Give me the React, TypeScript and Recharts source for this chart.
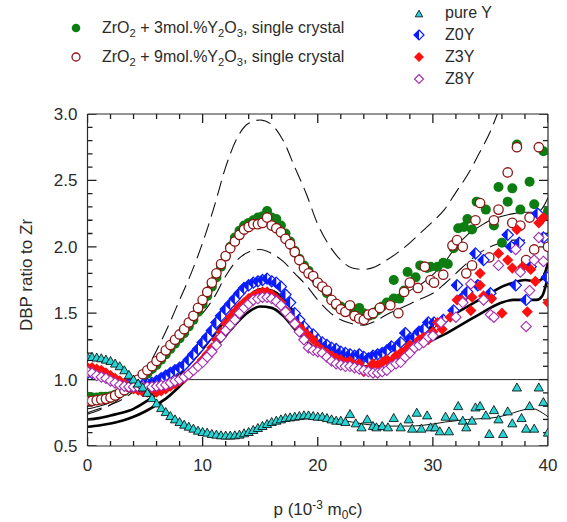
import React from 'react'
import { ComposedChart, Scatter, Line, XAxis, YAxis, ReferenceLine } from 'recharts'

type Pt = [number, number]

const FONT = '"Liberation Sans", Arial, Helvetica, sans-serif'
const INK = '#2b2b2b'
const GREEN = '#0d7d12'
const BROWN = '#8c1414'
const CYAN = '#27d3d3'
const BLUE = '#0a1cff'
const RED = '#ff1010'
const PURPLE = '#a42cb0'

const xTicks = [0, 2, 4, 6, 8, 10, 12, 14, 16, 18, 20, 22, 24, 26, 28, 30, 32, 34, 36, 38, 40]
const xMajor = [0, 10, 20, 30, 40]
const yTicks = [0.5, 0.6, 0.7, 0.8, 0.9, 1.0, 1.1, 1.2, 1.3, 1.4, 1.5, 1.6, 1.7, 1.8, 1.9, 2.0, 2.1, 2.2, 2.3, 2.4, 2.5, 2.6, 2.7, 2.8, 2.9, 3.0]
const yMajor = [0.5, 1.0, 1.5, 2.0, 2.5, 3.0]

// ZrO2 + 3 mol.% Y2O3 single crystal
const zr3: Pt[] = [
  [0, 0.87], [0.4, 0.865], [0.8, 0.865], [1.2, 0.87], [1.6, 0.87], [2.0, 0.875], [2.4, 0.885], [2.8, 0.9], [3.2, 0.915], [3.6, 0.935],
  [4.0, 0.96], [4.4, 0.985], [4.8, 1.01], [5.2, 1.045], [5.6, 1.08], [6.0, 1.11], [6.4, 1.15], [6.8, 1.19], [7.2, 1.23], [7.6, 1.27],
  [8.0, 1.31], [8.4, 1.35], [8.8, 1.4], [9.2, 1.45], [9.6, 1.51], [10.0, 1.57], [10.4, 1.63], [10.8, 1.7], [11.2, 1.77], [11.6, 1.85],
  [12.0, 1.93], [12.4, 2.0], [12.8, 2.07], [13.2, 2.12], [13.6, 2.16], [14.0, 2.18], [14.4, 2.2], [14.8, 2.22], [15.2, 2.23], [15.6, 2.27],
  [16.0, 2.22], [16.4, 2.21], [16.8, 2.16], [17.2, 2.1], [17.6, 2.04], [18.0, 1.97], [18.4, 1.91], [18.8, 1.86], [19.2, 1.82], [19.6, 1.78],
  [20.0, 1.73], [20.4, 1.7], [20.8, 1.65], [21.2, 1.6], [21.6, 1.56], [22.0, 1.55], [22.4, 1.53], [22.8, 1.55], [23.2, 1.52], [23.6, 1.54],
  [24.0, 1.5], [24.4, 1.48], [24.8, 1.49], [25.2, 1.52], [25.6, 1.55], [26.0, 1.58], [26.6, 1.75], [26.6, 1.61], [27.1, 1.61], [27.5, 1.67],
  [27.8, 1.81], [28.5, 1.77], [28.9, 1.86], [29.5, 1.84], [29.8, 1.85], [30.4, 1.85], [30.9, 1.88], [31.3, 1.87], [31.8, 1.99], [32.2, 2.14],
  [32.7, 2.15], [33.0, 2.21], [33.4, 2.13], [33.8, 2.34], [34.6, 2.28], [35.3, 2.16], [35.7, 2.45], [36.0, 2.03], [36.5, 2.34], [36.9, 2.44],
  [37.3, 2.77], [37.6, 2.28], [38.4, 2.49], [38.8, 2.32], [39.6, 2.72], [40.0, 2.27],
]

// ZrO2 + 9 mol.% Y2O3 single crystal
const zr9: Pt[] = [
  [0, 0.84], [0.4, 0.84], [0.8, 0.845], [1.2, 0.85], [1.6, 0.855], [2.0, 0.865], [2.4, 0.88], [2.8, 0.9], [3.2, 0.92], [3.6, 0.945],
  [4.0, 0.97], [4.4, 1.0], [4.8, 1.04], [5.2, 1.07], [5.6, 1.1], [6.0, 1.14], [6.4, 1.17], [6.8, 1.22], [7.2, 1.26], [7.6, 1.3],
  [8.0, 1.34], [8.4, 1.38], [8.8, 1.43], [9.2, 1.48], [9.6, 1.54], [10.0, 1.6], [10.4, 1.66], [10.8, 1.73], [11.2, 1.8], [11.6, 1.87],
  [12.0, 1.93], [12.4, 1.99], [12.8, 2.04], [13.2, 2.09], [13.6, 2.13], [14.0, 2.15], [14.4, 2.17], [14.8, 2.17], [15.2, 2.18], [15.6, 2.22],
  [16.0, 2.16], [16.4, 2.14], [16.8, 2.11], [17.2, 2.06], [17.6, 2.02], [18.0, 1.96], [18.4, 1.9], [18.8, 1.84], [19.2, 1.8], [19.6, 1.78],
  [20.0, 1.73], [20.4, 1.7], [20.8, 1.67], [21.2, 1.6], [21.6, 1.57], [22.0, 1.53], [22.4, 1.51], [22.8, 1.56], [23.2, 1.48], [23.6, 1.46],
  [24.0, 1.45], [24.4, 1.49], [24.8, 1.5], [25.4, 1.54], [26.3, 1.56], [27.0, 1.5], [27.5, 1.66], [28.0, 1.73], [28.7, 1.69], [29.3, 1.85],
  [29.8, 1.75], [30.1, 1.73], [30.9, 1.79], [31.7, 2.01], [32.1, 2.05], [32.6, 2.0], [32.9, 1.8], [33.4, 1.86], [33.7, 2.2], [34.1, 2.33],
  [34.9, 1.92], [35.3, 2.2], [35.7, 2.28], [36.5, 2.56], [36.9, 2.18], [37.3, 2.75], [37.6, 2.16], [38.1, 1.9], [38.4, 2.22], [38.8, 1.98],
  [39.2, 2.75], [40.0, 2.0],
]

const pureY: Pt[] = [
  [0, 1.17], [0.4, 1.17], [0.8, 1.165], [1.2, 1.16], [1.6, 1.15], [2.0, 1.14], [2.4, 1.12], [2.8, 1.1], [3.2, 1.07], [3.6, 1.035],
  [4.0, 1.0], [4.4, 0.97], [4.8, 0.94], [5.2, 0.9], [5.6, 0.86], [6.0, 0.82], [6.4, 0.785], [6.8, 0.755], [7.2, 0.725], [7.6, 0.7],
  [8.0, 0.68], [8.4, 0.66], [8.8, 0.645], [9.2, 0.63], [9.6, 0.615], [10.0, 0.605], [10.4, 0.6], [10.8, 0.59], [11.2, 0.585], [11.6, 0.58],
  [12.0, 0.578], [12.4, 0.578], [12.8, 0.58], [13.2, 0.585], [13.6, 0.595], [14.0, 0.605], [14.4, 0.62], [14.8, 0.635], [15.2, 0.65], [15.6, 0.665],
  [16.0, 0.68], [16.4, 0.69], [16.8, 0.7], [17.2, 0.71], [17.6, 0.715], [18.0, 0.72], [18.4, 0.725], [18.8, 0.73], [19.2, 0.73], [19.6, 0.725],
  [20.0, 0.72], [20.4, 0.72], [20.8, 0.71], [21.2, 0.7], [21.6, 0.69], [22.0, 0.69], [22.4, 0.68], [22.8, 0.74], [23.3, 0.67], [23.8, 0.64],
  [24.3, 0.7], [24.8, 0.65], [25.1, 0.64], [25.6, 0.65], [26.1, 0.64], [26.6, 0.71], [27.2, 0.64], [27.9, 0.7], [28.2, 0.63], [28.6, 0.75],
  [29.0, 0.63], [29.5, 0.73], [29.8, 0.64], [30.2, 0.64], [30.6, 0.61], [31.1, 0.72], [31.4, 0.61], [31.8, 0.72], [32.2, 0.8], [32.6, 0.69],
  [32.9, 0.64], [33.4, 0.69], [33.7, 0.79], [34.1, 0.8], [34.6, 0.73], [34.9, 0.59], [35.3, 0.77], [35.7, 0.7], [36.1, 0.59], [36.5, 0.76],
  [36.9, 0.67], [37.3, 0.94], [37.7, 0.71], [38.1, 0.63], [38.4, 0.8], [38.8, 0.63], [39.2, 0.94], [39.6, 0.83], [40.0, 0.6],
]

const z0y: Pt[] = [
  [0, 1.05], [0.4, 1.05], [0.8, 1.04], [1.2, 1.03], [1.6, 1.02], [2.0, 1.0], [2.4, 0.99], [2.8, 0.975], [3.2, 0.965], [3.6, 0.96],
  [4.0, 0.955], [4.4, 0.955], [4.8, 0.96], [5.2, 0.965], [5.6, 0.975], [6.0, 0.99], [6.4, 1.01], [6.8, 1.03], [7.2, 1.05], [7.6, 1.07],
  [8.0, 1.09], [8.4, 1.11], [8.8, 1.15], [9.2, 1.19], [9.6, 1.23], [10.0, 1.28], [10.4, 1.32], [10.8, 1.37], [11.2, 1.43], [11.6, 1.48],
  [12.0, 1.53], [12.4, 1.57], [12.8, 1.61], [13.2, 1.65], [13.6, 1.69], [14.0, 1.71], [14.4, 1.73], [14.8, 1.74], [15.2, 1.75], [15.6, 1.76],
  [16.0, 1.74], [16.4, 1.73], [16.8, 1.7], [17.2, 1.64], [17.6, 1.58], [18.0, 1.5], [18.4, 1.45], [18.8, 1.4], [19.2, 1.36], [19.6, 1.34],
  [20.0, 1.3], [20.4, 1.28], [20.8, 1.26], [21.2, 1.24], [21.6, 1.23], [22.0, 1.21], [22.4, 1.2], [22.8, 1.19], [23.2, 1.18], [23.6, 1.19],
  [24.0, 1.17], [24.4, 1.16], [24.8, 1.18], [25.2, 1.19], [25.6, 1.2], [26.0, 1.22], [26.4, 1.25], [26.8, 1.24], [27.2, 1.28], [27.6, 1.35],
  [28.0, 1.31], [28.4, 1.32], [28.8, 1.36], [29.2, 1.38], [29.6, 1.43], [30.1, 1.43], [30.9, 1.45], [31.8, 1.52], [32.1, 1.71], [32.6, 1.62],
  [33.0, 1.66], [33.7, 1.95], [33.9, 1.71], [34.4, 1.9], [35.0, 1.65], [36.5, 2.09], [36.8, 2.0], [37.2, 1.71], [37.5, 2.03], [38.1, 1.6],
  [38.5, 1.85], [39.1, 2.25], [39.6, 2.07], [39.9, 1.77],
]

const z3y: Pt[] = [
  [0, 1.09], [0.4, 1.09], [0.8, 1.08], [1.2, 1.07], [1.6, 1.05], [2.0, 1.03], [2.4, 1.01], [2.8, 0.99], [3.2, 0.97], [3.6, 0.95],
  [4.0, 0.93], [4.4, 0.92], [4.8, 0.91], [5.2, 0.905], [5.6, 0.9], [6.0, 0.905], [6.4, 0.915], [6.8, 0.93], [7.2, 0.95], [7.6, 0.97],
  [8.0, 0.99], [8.4, 1.01], [8.8, 1.04], [9.2, 1.07], [9.6, 1.11], [10.0, 1.15], [10.4, 1.19], [10.8, 1.24], [11.2, 1.3], [11.6, 1.36],
  [12.0, 1.42], [12.4, 1.47], [12.8, 1.51], [13.2, 1.55], [13.6, 1.58], [14.0, 1.61], [14.4, 1.63], [14.8, 1.65], [15.2, 1.66], [15.6, 1.66],
  [16.0, 1.64], [16.4, 1.61], [16.8, 1.58], [17.2, 1.52], [17.6, 1.47], [18.0, 1.43], [18.4, 1.4], [18.8, 1.36], [19.2, 1.33], [19.6, 1.3],
  [20.0, 1.25], [20.4, 1.22], [20.8, 1.2], [21.2, 1.18], [21.6, 1.16], [22.0, 1.15], [22.4, 1.13], [22.8, 1.14], [23.2, 1.1], [23.6, 1.12],
  [24.0, 1.06], [24.4, 1.08], [24.8, 1.12], [25.2, 1.11], [25.6, 1.13], [26.0, 1.15], [26.4, 1.14], [26.8, 1.18], [27.2, 1.2], [27.6, 1.22],
  [28.0, 1.26], [28.4, 1.25], [28.8, 1.3], [29.2, 1.32], [29.6, 1.3], [30.0, 1.36], [30.4, 1.43], [30.8, 1.38], [31.5, 1.47], [32.1, 1.6],
  [32.5, 1.6], [33.3, 1.52], [33.4, 1.62], [34.1, 1.8], [34.1, 1.71], [34.4, 1.63], [35.1, 1.61], [35.7, 1.95], [36.0, 1.5], [36.5, 1.9],
  [36.9, 1.84], [37.3, 2.13], [37.8, 1.85], [38.2, 1.51], [38.5, 1.83], [38.9, 1.74], [39.2, 2.18], [39.6, 2.22], [40.0, 1.58],
]

const z8y: Pt[] = [
  [0, 1.06], [0.4, 1.05], [0.8, 1.03], [1.2, 1.02], [1.6, 1.01], [2.0, 0.99], [2.4, 0.975], [2.8, 0.96], [3.2, 0.95], [3.6, 0.945],
  [4.0, 0.945], [4.4, 0.945], [4.8, 0.945], [5.2, 0.945], [5.6, 0.945], [6.0, 0.95], [6.4, 0.955], [6.8, 0.96], [7.2, 0.975], [7.6, 0.99],
  [8.0, 1.0], [8.4, 1.02], [8.8, 1.04], [9.2, 1.07], [9.6, 1.1], [10.0, 1.13], [10.4, 1.17], [10.8, 1.21], [11.2, 1.26], [11.6, 1.32],
  [12.0, 1.37], [12.4, 1.41], [12.8, 1.45], [13.2, 1.5], [13.6, 1.54], [14.0, 1.57], [14.4, 1.6], [14.8, 1.61], [15.2, 1.62], [15.6, 1.62],
  [16.0, 1.61], [16.4, 1.59], [16.8, 1.56], [17.2, 1.51], [17.6, 1.47], [18.0, 1.42], [18.4, 1.36], [18.8, 1.3], [19.2, 1.24], [19.6, 1.22],
  [20.0, 1.21], [20.4, 1.2], [20.8, 1.17], [21.2, 1.14], [21.6, 1.12], [22.0, 1.11], [22.4, 1.1], [22.8, 1.1], [23.2, 1.09], [23.6, 1.08],
  [24.0, 1.07], [24.4, 1.06], [24.8, 1.05], [25.2, 1.05], [25.6, 1.06], [26.0, 1.07], [26.4, 1.1], [26.8, 1.12], [27.2, 1.13], [27.6, 1.17],
  [28.0, 1.2], [28.4, 1.24], [28.8, 1.26], [29.2, 1.28], [29.6, 1.32], [30.0, 1.33], [30.7, 1.43], [32.0, 1.47], [32.6, 1.58], [33.3, 1.72],
  [34.4, 1.6], [35.0, 1.49], [35.3, 1.47], [35.7, 1.86], [37.2, 1.98], [37.6, 1.81], [38.1, 1.4], [38.4, 1.67], [38.8, 1.9], [39.2, 2.07],
  [39.6, 1.89],
]

// model curves
const upperDash: Pt[] = [
  [0, 0.74], [1, 0.77], [2, 0.81], [3, 0.87], [4, 0.95], [5, 1.06], [6, 1.22], [7, 1.4], [8, 1.6], [9, 1.8], [10, 2.03], [11, 2.3],
  [12, 2.6], [13, 2.82], [14, 2.93], [15, 2.955], [16, 2.92], [17, 2.8], [18, 2.6], [19, 2.4], [20, 2.17], [21, 2.01], [22, 1.9],
  [23, 1.84], [24, 1.83], [25, 1.85], [26, 1.9], [27, 1.96], [28, 2.03], [29, 2.11], [30, 2.19], [31, 2.28], [32, 2.41], [33, 2.54],
  [34, 2.7], [35, 2.87], [35.6, 3.0],
]
const lowerDash: Pt[] = [
  [0, 0.75], [1, 0.78], [2, 0.81], [3, 0.85], [4, 0.91], [5, 0.99], [6, 1.08], [7, 1.18], [8, 1.3], [9, 1.42], [10, 1.5], [11, 1.62],
  [12, 1.78], [13, 1.9], [14, 1.96], [15, 1.98], [16, 1.95], [17, 1.89], [18, 1.8], [19, 1.71], [20, 1.6], [21, 1.51], [22, 1.45],
  [23, 1.42], [24, 1.41], [25, 1.44], [26, 1.49], [27, 1.53], [28, 1.57], [29, 1.61], [30, 1.65], [31, 1.72], [32, 1.8], [33, 1.88],
  [34, 1.95], [35, 2.0], [36, 2.03], [37, 2.05], [38, 2.05],
]
const thinFit: Pt[] = [
  [0, 0.78], [1, 0.8], [2, 0.83], [3, 0.88], [4, 0.95], [5, 1.03], [6, 1.12], [7, 1.23], [8, 1.35], [9, 1.48], [10, 1.62], [11, 1.77],
  [12, 1.92], [13, 2.05], [14, 2.14], [15, 2.17], [16, 2.14], [17, 2.05], [18, 1.93], [19, 1.8], [20, 1.69], [21, 1.61], [22, 1.55],
  [23, 1.52], [24, 1.51], [25, 1.53], [26, 1.56], [27, 1.61], [28, 1.67], [29, 1.72], [30, 1.79], [31, 1.88], [32, 2.0], [33, 2.09],
  [34, 2.15], [35, 2.2], [36, 2.23], [37, 2.25], [38, 2.26], [39, 2.26], [39.5, 2.29], [40, 2.37],
]
const thickUpper: Pt[] = [
  [0, 0.7], [1, 0.71], [2, 0.73], [3, 0.75], [4, 0.78], [5, 0.83], [6, 0.89], [7, 0.96], [8, 1.04], [9, 1.13], [10, 1.23], [11, 1.34],
  [12, 1.45], [13, 1.55], [14, 1.63], [15, 1.68], [16, 1.67], [17, 1.61], [18, 1.5], [19, 1.39], [20, 1.31], [21, 1.25], [22, 1.21],
  [23, 1.19], [24, 1.18], [25, 1.19], [26, 1.21], [27, 1.25], [28, 1.3], [29, 1.35], [30, 1.4], [31, 1.45], [32, 1.5], [33, 1.55],
  [34, 1.6], [35, 1.65], [36, 1.7], [37, 1.73], [38, 1.75], [39, 1.74], [39.5, 1.76], [40, 1.88],
]
const thickLower: Pt[] = [
  [0, 0.645], [1, 0.655], [2, 0.67], [3, 0.69], [4, 0.72], [5, 0.76], [6, 0.81], [7, 0.87], [8, 0.95], [9, 1.04], [10, 1.13], [11, 1.23],
  [12, 1.33], [13, 1.43], [14, 1.51], [15, 1.55], [16, 1.54], [17, 1.48], [18, 1.38], [19, 1.29], [20, 1.22], [21, 1.17], [22, 1.13],
  [23, 1.11], [24, 1.1], [25, 1.11], [26, 1.13], [27, 1.16], [28, 1.21], [29, 1.26], [30, 1.3], [31, 1.34], [32, 1.39], [33, 1.44],
  [34, 1.49], [35, 1.54], [36, 1.58], [37, 1.6], [38, 1.6], [39, 1.6], [39.5, 1.63], [40, 1.78],
]
const pureYFit: Pt[] = [
  [0, 1.17], [1, 1.165], [2, 1.14], [3, 1.09], [4, 1.0], [5, 0.91], [6, 0.82], [7, 0.74], [8, 0.68], [9, 0.64], [10, 0.61], [11, 0.59],
  [12, 0.58], [13, 0.585], [14, 0.605], [15, 0.645], [16, 0.68], [17, 0.705], [18, 0.72], [19, 0.725], [20, 0.72], [21, 0.71],
  [22, 0.695], [23, 0.68], [24, 0.665], [25, 0.655], [26, 0.65], [27, 0.65], [28, 0.65], [29, 0.655], [30, 0.665], [31, 0.68],
  [32, 0.69], [33, 0.7], [34, 0.705], [35, 0.71], [36, 0.725], [37, 0.75], [38, 0.775], [38.7, 0.78], [39.5, 0.75], [40, 0.72],
]

const rows = (pts: Pt[]) => pts.map(([p, v]) => ({ p, v }))

const axisStroke = { stroke: INK, strokeWidth: 1.2 }

// tick anchors sit on the frame; the shape draws them pointing inward
const bottomTicks = xTicks.map((p) => ({ p, v: 0.5, major: xMajor.includes(p) }))
const topTicks = xTicks.map((p) => ({ p, v: 3.0, major: xMajor.includes(p) }))
const leftTicks = yTicks.map((v) => ({ p: 0, v, major: yMajor.includes(v) }))
const rightTicks = yTicks.map((v) => ({ p: 40, v, major: yMajor.includes(v) }))

const tickMark = (dx: number, dy: number) => ({ cx, cy, payload }: any) => {
  const len = payload.major ? 9 : 5
  return <line x1={cx} y1={cy} x2={cx + dx * len} y2={cy + dy * len} stroke="#1e1e1e" strokeWidth={1.3} />
}

function BottomLabel({ x, y, payload }: any) {
  return (
    <text x={x} y={y + 25} textAnchor="middle" fontSize={17} fontFamily={FONT} fill={INK}>
      {payload.value}
    </text>
  )
}
function LeftLabel({ x, y, payload }: any) {
  return (
    <text x={x - 10} y={y + 6} textAnchor="end" fontSize={17} fontFamily={FONT} fill={INK}>
      {payload.value.toFixed(1)}
    </text>
  )
}

// marker shapes
const diamondPath = (cx: number, cy: number, r: number) => `M${cx},${cy - r} L${cx + r},${cy} L${cx},${cy + r} L${cx - r},${cy} Z`

function GreenDot({ cx, cy, r = 5 }: any) {
  return <circle cx={cx} cy={cy} r={r} fill={GREEN} />
}
function OpenDot({ cx, cy, r = 4.7 }: any) {
  return <circle cx={cx} cy={cy} r={r} fill="#fff" stroke={BROWN} strokeWidth={1.3} />
}
function Tri({ cx, cy, s = 4.6 }: any) {
  return (
    <path d={`M${cx},${cy - s} L${cx + s},${cy + s * 0.75} L${cx - s},${cy + s * 0.75} Z`} fill={CYAN} stroke="#000" strokeWidth={0.8} />
  )
}
function HalfDiamond({ cx, cy, r = 5.6 }: any) {
  return (
    <g>
      <path d={diamondPath(cx, cy, r)} fill="#fff" stroke={BLUE} strokeWidth={1.2} />
      <path d={`M${cx},${cy - r} L${cx},${cy + r} L${cx - r},${cy} Z`} fill={BLUE} />
    </g>
  )
}
function RedDiamond({ cx, cy, r = 5.6 }: any) {
  return <path d={diamondPath(cx, cy, r)} fill={RED} />
}
function OpenDiamond({ cx, cy, r = 5.2 }: any) {
  return <path d={diamondPath(cx, cy, r)} fill="#fff" stroke={PURPLE} strokeWidth={1.1} />
}

function Sub({ children }: { children: React.ReactNode }) {
  return <span style={{ fontSize: '0.7em', position: 'relative', top: '0.35em' }}>{children}</span>
}

function LegendItem({ x, y, icon, children }: { x: number; y: number; icon: React.ReactNode; children: React.ReactNode }) {
  return (
    <>
      <svg width={16} height={16} style={{ position: 'absolute', left: x - 8, top: y - 8 }}>
        {icon}
      </svg>
      <div style={{ position: 'absolute', left: x + 26, top: y - 11, lineHeight: '22px', fontSize: 16, whiteSpace: 'nowrap' }}>{children}</div>
    </>
  )
}

export default function App() {
  return (
    <div style={{ position: 'absolute', left: 0, top: 0, width: 567, height: 522, fontFamily: FONT, color: INK, background: '#fff' }}>
      <ComposedChart width={567} height={522} margin={{ top: 114, right: 19, bottom: 0, left: 0 }}>
        <XAxis xAxisId="b" dataKey="p" type="number" domain={[0, 40]} allowDataOverflow ticks={xMajor} interval={0}
          height={76} tickSize={0} tickMargin={0} tickLine={false} tick={BottomLabel} axisLine={axisStroke} />
        <YAxis yAxisId="l" dataKey="v" type="number" domain={[0.5, 3]} allowDataOverflow ticks={yMajor} interval={0}
          width={87.5} tickSize={0} tickMargin={0} tickLine={false} tick={LeftLabel} axisLine={axisStroke} />

        <ReferenceLine xAxisId="b" yAxisId="l" y={3} stroke={INK} strokeWidth={1.2} />
        <ReferenceLine xAxisId="b" yAxisId="l" x={40} stroke={INK} strokeWidth={1.2} />
        <ReferenceLine xAxisId="b" yAxisId="l" y={1} stroke={INK} strokeWidth={1} />

        <Scatter xAxisId="b" yAxisId="l" data={bottomTicks} dataKey="v" shape={tickMark(0, -1)} isAnimationActive={false} />
        <Scatter xAxisId="b" yAxisId="l" data={topTicks} dataKey="v" shape={tickMark(0, 1)} isAnimationActive={false} />
        <Scatter xAxisId="b" yAxisId="l" data={leftTicks} dataKey="v" shape={tickMark(1, 0)} isAnimationActive={false} />
        <Scatter xAxisId="b" yAxisId="l" data={rightTicks} dataKey="v" shape={tickMark(-1, 0)} isAnimationActive={false} />

        <Scatter xAxisId="b" yAxisId="l" data={rows(zr3)} dataKey="v" shape={GreenDot} isAnimationActive={false} />
        <Scatter xAxisId="b" yAxisId="l" data={rows(zr9)} dataKey="v" shape={OpenDot} isAnimationActive={false} />
        <Scatter xAxisId="b" yAxisId="l" data={rows(z0y)} dataKey="v" shape={HalfDiamond} isAnimationActive={false} />
        <Scatter xAxisId="b" yAxisId="l" data={rows(z3y)} dataKey="v" shape={RedDiamond} isAnimationActive={false} />
        <Scatter xAxisId="b" yAxisId="l" data={rows(z8y)} dataKey="v" shape={OpenDiamond} isAnimationActive={false} />
        <Scatter xAxisId="b" yAxisId="l" data={rows(pureY)} dataKey="v" shape={Tri} isAnimationActive={false} />

        <Line xAxisId="b" yAxisId="l" data={rows(upperDash)} dataKey="v" type="monotone" dot={false} stroke="#111" strokeWidth={1.1} strokeDasharray="15 7" isAnimationActive={false} />
        <Line xAxisId="b" yAxisId="l" data={rows(lowerDash)} dataKey="v" type="monotone" dot={false} stroke="#111" strokeWidth={1.1} strokeDasharray="15 7" isAnimationActive={false} />
        <Line xAxisId="b" yAxisId="l" data={rows(thinFit)} dataKey="v" type="monotone" dot={false} stroke="#111" strokeWidth={1.1} isAnimationActive={false} />
        <Line xAxisId="b" yAxisId="l" data={rows(thickUpper)} dataKey="v" type="monotone" dot={false} stroke="#000" strokeWidth={2.6} isAnimationActive={false} />
        <Line xAxisId="b" yAxisId="l" data={rows(thickLower)} dataKey="v" type="monotone" dot={false} stroke="#000" strokeWidth={2.6} isAnimationActive={false} />
        <Line xAxisId="b" yAxisId="l" data={rows(pureYFit)} dataKey="v" type="monotone" dot={false} stroke="#111" strokeWidth={1} isAnimationActive={false} />
      </ComposedChart>

      <LegendItem x={76} y={28} icon={<GreenDot cx={8} cy={8} r={4.3} />}>
        ZrO<Sub>2</Sub> + 3mol.%Y<Sub>2</Sub>O<Sub>3</Sub>, single crystal
      </LegendItem>
      <LegendItem x={76} y={57} icon={<OpenDot cx={8} cy={8} r={4} />}>
        ZrO<Sub>2</Sub> + 9mol.%Y<Sub>2</Sub>O<Sub>3</Sub>, single crystal
      </LegendItem>
      <LegendItem x={419} y={13} icon={<Tri cx={8} cy={9} s={3.8} />}>pure Y</LegendItem>
      <LegendItem x={419} y={35} icon={<HalfDiamond cx={8} cy={8} r={5} />}>Z0Y</LegendItem>
      <LegendItem x={419} y={57} icon={<RedDiamond cx={8} cy={8} r={5} />}>Z3Y</LegendItem>
      <LegendItem x={419} y={79} icon={<OpenDiamond cx={8} cy={8} r={4.5} />}>Z8Y</LegendItem>

      <div style={{ position: 'absolute', left: 218, width: 200, top: 499, textAlign: 'center', fontSize: 17, lineHeight: '22px', whiteSpace: 'nowrap' }}>
        p (10<span style={{ fontSize: '0.7em', position: 'relative', top: '-0.5em' }}>-3</span> m<Sub>0</Sub>c)
      </div>
      <div style={{ position: 'absolute', left: 27 - 100, top: 275 - 11, width: 200, textAlign: 'center', fontSize: 17, lineHeight: '22px', transform: 'rotate(-90deg)', whiteSpace: 'nowrap' }}>
        DBP ratio to Zr
      </div>
    </div>
  )
}
